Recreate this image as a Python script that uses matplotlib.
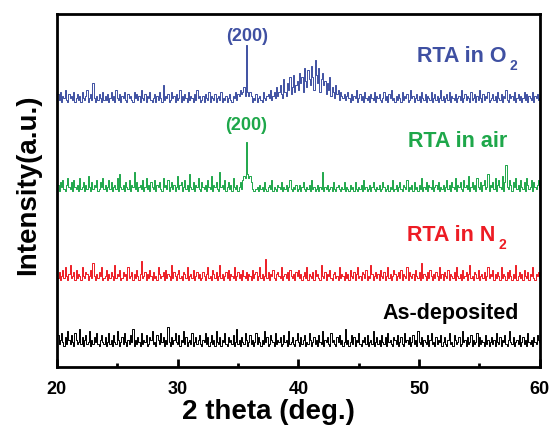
import numpy as np
import matplotlib
matplotlib.use("Agg")
import matplotlib.pyplot as plt

plt.rcParams['font.family'] = ['Liberation Sans', 'DejaVu Sans']

two_theta_start, two_theta_step = 20.0, 0.1

as_deposited = [
    2,5,1,3,6,2,0,4,1,7,3,1,5,2,0,6,3,1,2,8,1,4,0,3,5,1,2,7,0,3,1,4,2,6,1,0,3,5,2,1,
    4,0,2,6,1,3,0,5,2,1,7,3,0,2,4,1,6,2,0,3,1,5,2,8,0,3,1,4,2,0,6,1,3,2,5,0,1,4,3,7,
    1,2,0,5,3,1,6,2,4,0,3,1,9,2,0,4,1,3,6,2,1,5,0,3,2,7,1,4,0,2,3,1,6,0,2,4,1,3,5,1,
    0,3,2,6,1,4,0,2,5,1,3,0,7,2,1,4,0,3,2,6,1,0,4,2,3,1,5,0,2,8,1,3,0,4,2,1,6,3,0,2,
    5,1,3,0,2,6,1,4,2,0,3,1,7,2,4,0,1,5,3,2,0,6,1,3,2,4,0,1,5,2,3,0,7,1,2,4,1,0,3,6,
    2,0,4,1,3,5,0,2,1,6,3,0,2,4,1,3,0,5,2,1,7,0,3,2,4,1,0,6,2,3,1,0,4,2,5,1,3,0,2,8,
    1,3,0,2,5,1,4,0,3,2,6,1,0,3,2,4,1,5,0,2,3,1,7,0,2,4,1,3,0,5,2,1,4,0,6,2,3,1,0,4,
    3,1,5,0,2,4,1,0,6,2,3,1,4,0,2,5,1,3,0,7,2,1,4,0,3,2,1,5,0,3,6,1,2,0,4,1,3,2,5,0,
    2,4,1,0,3,6,1,2,0,5,3,1,2,4,0,1,7,2,3,0,4,1,2,5,0,3,1,2,6,0,4,1,3,2,0,5,1,3,0,2,
    4,1,3,0,6,2,1,4,0,3,2,5,1,0,3,7,2,1,4,0,2,3,1,5,0,2,4,1,3,0,6,2,1,3,0,4,2,1,5,3,
    2]

rta_n2 = [
    3,1,4,0,2,5,1,6,2,0,3,7,1,2,4,0,5,1,3,2,0,6,2,1,4,3,0,2,5,1,8,2,0,3,1,4,2,6,0,1,
    2,5,0,3,1,4,2,0,7,1,3,2,5,0,1,4,2,3,0,6,1,2,4,0,3,1,5,2,0,3,9,1,2,4,0,3,1,5,2,0,
    4,1,2,0,6,3,1,2,4,0,5,1,3,2,0,7,1,4,2,0,3,5,1,2,0,4,3,1,6,0,2,3,1,5,0,2,4,1,3,0,
    1,4,2,0,3,6,1,2,0,5,3,1,4,0,2,7,1,3,0,2,4,1,5,0,3,2,1,6,0,2,4,1,3,0,5,2,1,4,0,3,
    2,0,5,1,3,4,0,2,6,1,3,0,2,10,1,4,0,3,2,5,1,0,3,4,2,1,6,0,2,3,1,4,0,5,2,1,3,0,4,2,
    5,1,3,0,2,4,1,6,0,3,2,1,4,0,5,2,3,1,0,7,2,1,4,0,3,2,5,1,0,3,4,1,2,0,6,1,3,2,0,4,
    1,3,0,5,2,1,4,0,3,6,1,2,0,4,3,1,5,0,2,1,7,3,0,2,4,1,3,0,5,2,1,4,0,2,6,1,3,0,2,5,
    3,0,2,4,1,5,0,3,2,1,6,0,4,2,1,3,0,5,2,1,4,0,8,1,3,2,0,4,1,5,2,0,3,1,4,2,0,6,1,3,
    0,4,2,1,5,0,3,2,1,4,0,6,2,1,3,0,5,1,2,4,0,3,7,1,2,0,4,3,1,5,0,2,3,1,4,0,2,6,1,3,
    2,5,0,3,1,4,2,0,6,1,3,2,0,4,1,5,2,0,3,1,7,0,2,4,1,3,0,5,2,1,4,0,3,2,6,1,0,3,2,4,
    1]

rta_air = [
    1,3,0,4,2,5,1,0,3,6,2,1,4,0,5,2,1,3,0,6,1,2,4,0,3,1,7,2,0,4,1,3,2,5,0,1,4,2,6,1,
    3,0,2,5,1,4,0,2,3,1,6,0,8,2,1,3,0,4,2,1,5,0,3,2,9,1,4,0,2,3,1,5,0,2,6,1,3,0,4,2,
    1,5,0,3,2,4,1,0,6,2,3,1,5,0,2,4,1,3,0,2,7,1,3,4,0,2,5,1,3,0,8,2,1,4,0,3,2,6,1,0,
    4,2,1,3,0,5,2,1,7,0,3,2,4,1,0,9,2,3,1,5,0,2,4,1,3,0,6,2,1,3,0,2,4,1,5,7,6,23,8,6,
    7,4,1,0,0,1,2,0,3,1,2,0,4,1,0,2,3,1,5,0,2,1,0,3,2,1,4,0,2,1,3,0,2,5,1,0,2,1,3,0,
    1,3,0,2,4,1,0,2,1,3,0,5,1,2,0,1,3,0,2,1,9,0,2,1,3,0,1,2,0,4,1,0,2,3,1,0,2,1,4,0,
    2,1,0,3,1,2,0,4,1,0,2,1,3,0,5,1,2,0,1,3,0,2,4,1,0,2,1,3,0,1,4,2,0,1,3,0,2,1,5,0,
    1,3,0,2,4,1,0,3,2,1,5,0,2,1,3,0,4,1,2,0,3,1,6,0,2,1,4,0,3,2,1,5,0,2,3,1,4,0,2,1,
    3,0,2,5,1,3,0,4,2,1,6,0,3,2,4,1,0,5,2,3,1,7,0,2,4,1,3,0,6,2,1,4,0,3,5,1,2,8,0,3,
    2,4,1,6,0,3,5,2,1,7,0,4,12,2,1,5,3,0,4,2,6,1,3,0,5,2,1,4,0,6,3,1,2,5,0,4,2,1,3,5,
    2]

rta_o2 = [
    2,4,1,5,0,3,2,6,1,0,4,2,3,1,5,0,2,4,1,3,0,5,2,1,3,6,0,2,4,1,9,2,0,3,1,4,2,0,5,1,
    3,1,4,0,2,5,1,3,0,6,2,1,4,0,3,2,5,1,0,4,2,3,1,0,5,2,4,1,3,0,6,2,1,4,0,3,2,5,1,0,
    2,4,0,3,1,5,2,0,8,1,3,2,4,0,1,5,2,3,0,4,1,2,6,0,3,1,4,2,0,5,1,3,2,0,4,1,6,2,3,0,
    1,3,0,4,2,1,5,0,3,2,1,4,0,2,3,1,5,0,2,1,3,0,2,4,1,0,3,2,5,1,4,3,6,4,5,7,3,27,5,3,
    5,3,0,2,1,4,0,2,3,1,0,5,2,1,3,4,2,6,1,3,5,2,7,3,5,8,4,2,11,5,3,9,6,12,4,7,13,5,8,10,
    6,14,9,12,5,16,10,7,15,11,8,17,12,6,20,13,9,16,5,11,14,8,10,4,9,6,12,3,7,5,2,8,4,6,1,5,3,2,4,1,
    3,5,2,0,4,1,3,2,6,0,2,4,1,3,0,5,2,1,3,0,4,2,1,5,0,3,2,4,1,0,2,5,1,3,0,4,2,6,1,2,
    0,3,1,4,2,0,5,1,3,2,4,0,1,6,2,3,0,2,4,1,3,0,5,2,1,4,0,3,2,1,5,0,2,4,1,3,0,2,6,1,
    3,0,2,4,1,5,0,3,2,1,4,0,2,3,1,6,0,2,4,1,3,2,0,5,1,2,4,0,3,1,6,2,0,4,1,3,2,5,0,1,
    2,4,1,3,0,5,2,1,4,0,3,2,6,1,0,4,2,3,1,5,0,2,4,1,3,0,2,5,1,4,0,3,2,1,5,0,3,2,4,1,
    2]

series_names = ["As-deposited", "RTA in N", "RTA in air", "RTA in O"]
series_subscripts = ["", "2", "", "2"]
series_counts = [as_deposited, rta_n2, rta_air, rta_o2]
series_offsets = [6.0, 24.6, 49.9, 75.0]
series_colors = ["#000000", "#ED1C24", "#1EA74A", "#3F50A2"]
count_scale = 0.6

fig = plt.figure(figsize=(5.52, 4.27), dpi=100)
ax = fig.add_axes([0.103, 0.138, 0.875, 0.827])

for counts, off, col in zip(series_counts, series_offsets, series_colors):
    y = off + count_scale * np.asarray(counts, dtype=float)
    x = two_theta_start + two_theta_step * np.arange(len(y))
    ax.plot(x, y, color=col, lw=0.7, drawstyle='steps-mid')

label_x = [47.0, 49.0, 49.1, 49.8]
label_y = [13.9, 36.0, 62.6, 86.7]
sub_x = [None, 56.55, None, 57.45]
sub_y = [None, 33.7, None, 84.4]
for name, sub, lx, ly, sx, sy, col in zip(series_names, series_subscripts, label_x, label_y,
                                          sub_x, sub_y, series_colors):
    ax.text(lx, ly, name, color=col, fontsize=15.5, fontweight='bold', va='baseline', ha='left')
    if sub:
        ax.text(sx, sy, sub, color=col, fontsize=10, fontweight='bold', va='baseline', ha='left')

ax.text(35.75, 92.6, "(200)", color=series_colors[3], fontsize=13, fontweight='bold', ha='center', va='baseline')
ax.text(35.7, 67.4, "(200)", color=series_colors[2], fontsize=13, fontweight='bold', ha='center', va='baseline')

ax.set_xlim(20, 60)
ax.set_ylim(0, 100)
ax.set_xticks([20, 30, 40, 50, 60])
ax.set_xticks([25, 35, 45, 55], minor=True)
ax.set_yticks([])
ax.tick_params(axis='x', which='major', direction='in', length=6, width=2, labelsize=13, pad=9)
ax.tick_params(axis='x', which='minor', direction='in', length=3, width=2)
for lab in ax.get_xticklabels():
    lab.set_fontweight('bold')
for s in ax.spines.values():
    s.set_linewidth(2)

ax.set_xlabel("2 theta (deg.)", fontsize=20, fontweight='bold')
ax.xaxis.set_label_coords(0.439, -0.1445)
ax.xaxis.label.set_va('baseline')
ax.set_ylabel("Intensity(a.u.)", fontsize=20, fontweight='bold')
ax.yaxis.set_label_coords(-0.059, 0.52)
ax.yaxis.label.set_va('center')

fig.savefig("out.png", dpi=100)
